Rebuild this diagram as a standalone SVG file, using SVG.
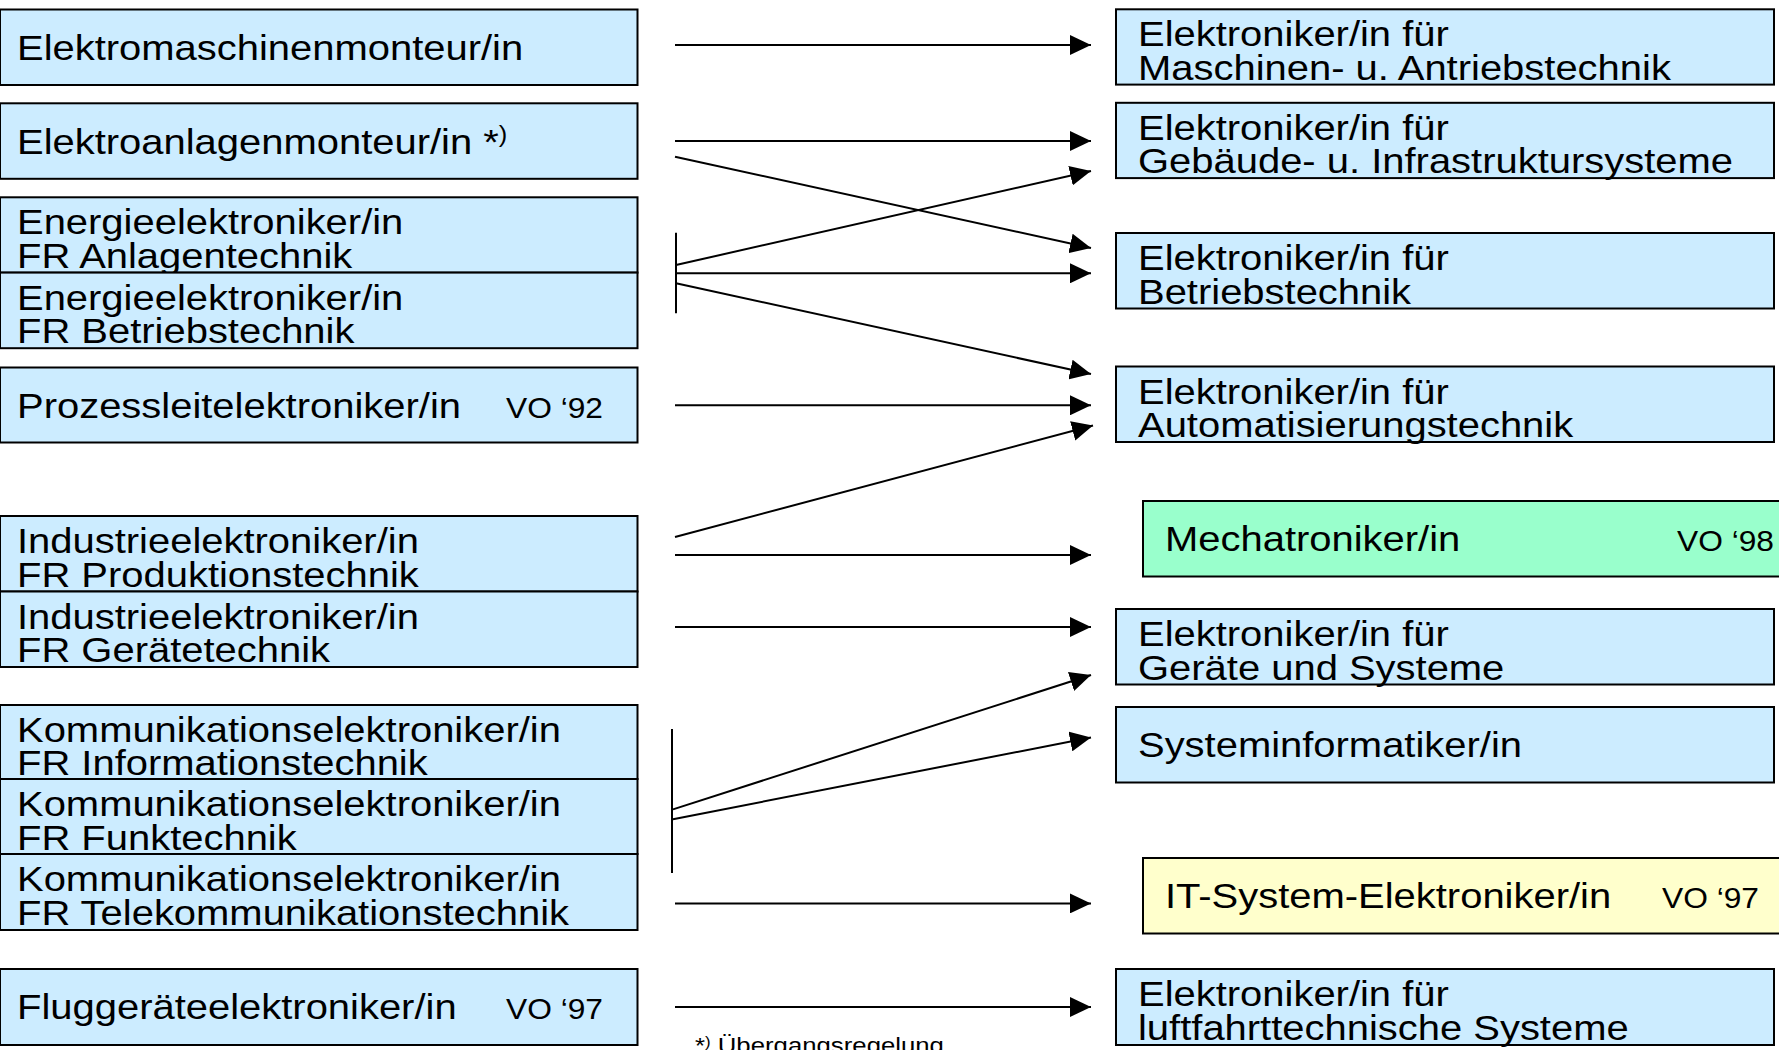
<svg xmlns="http://www.w3.org/2000/svg" width="1779" height="1050" viewBox="0 0 1779 1050">
<style>
.b{fill:#CCECFF;stroke:#000;stroke-width:2}
.g{fill:#99FFCC;stroke:#000;stroke-width:2}
.y{fill:#FFFFCC;stroke:#000;stroke-width:2}
text{font-family:"Liberation Sans",Arial,sans-serif;fill:#000}
.t{font-size:36px}
.v{font-size:29px}
.f{font-size:23px}
.c line{stroke:#000;stroke-width:2;fill:none}
.c .a{marker-end:url(#ah)}
</style>
<defs>
<marker id="ah" markerUnits="userSpaceOnUse" markerWidth="22" markerHeight="20" refX="21" refY="10" orient="auto" viewBox="0 0 22 20">
<path d="M0,0 L21,10 L0,20 z" fill="#000"/>
</marker>
</defs>
<rect width="1779" height="1050" fill="#fff"/>

<g id="l1"><rect class="b" x="0" y="9.5" width="637.5" height="75.5"/><text class="t" transform="translate(17,60) scale(1.11,1)">Elektromaschinenmonteur/in</text></g>
<g id="l2"><rect class="b" x="0" y="103.3" width="637.5" height="75.5"/><text class="t" transform="translate(17,154) scale(1.11,1)">Elektroanlagenmonteur/in *<tspan font-size="23" dy="-12">)</tspan></text></g>
<g id="l3"><rect class="b" x="0" y="197.3" width="637.5" height="75.3"/><text class="t" transform="translate(17,234) scale(1.11,1)"><tspan x="0" y="0">Energieelektroniker/in</tspan><tspan x="0" y="34">FR Anlagentechnik</tspan></text></g>
<g id="l4"><rect class="b" x="0" y="272.6" width="637.5" height="75.6"/><text class="t" transform="translate(17,309.5) scale(1.11,1)"><tspan x="0" y="0">Energieelektroniker/in</tspan><tspan x="0" y="34">FR Betriebstechnik</tspan></text></g>
<g id="l5"><rect class="b" x="0" y="367.5" width="637.5" height="75"/><text class="t" transform="translate(17,418) scale(1.11,1)">Prozessleitelektroniker/in</text><text class="v" transform="translate(506,418) scale(1.095,1)">VO ‘92</text></g>
<g id="l6"><rect class="b" x="0" y="516" width="637.5" height="75.5"/><text class="t" transform="translate(17,553) scale(1.11,1)"><tspan x="0" y="0">Industrieelektroniker/in</tspan><tspan x="0" y="34">FR Produktionstechnik</tspan></text></g>
<g id="l7"><rect class="b" x="0" y="591.5" width="637.5" height="75.5"/><text class="t" transform="translate(17,628.5) scale(1.11,1)"><tspan x="0" y="0">Industrieelektroniker/in</tspan><tspan x="0" y="34">FR Gerätetechnik</tspan></text></g>
<g id="l8"><rect class="b" x="0" y="705" width="637.5" height="74"/><text class="t" transform="translate(17,741.5) scale(1.11,1)"><tspan x="0" y="0">Kommunikationselektroniker/in</tspan><tspan x="0" y="34">FR Informationstechnik</tspan></text></g>
<g id="l9"><rect class="b" x="0" y="779" width="637.5" height="75"/><text class="t" transform="translate(17,816) scale(1.11,1)"><tspan x="0" y="0">Kommunikationselektroniker/in</tspan><tspan x="0" y="34">FR Funktechnik</tspan></text></g>
<g id="l10"><rect class="b" x="0" y="854" width="637.5" height="76"/><text class="t" transform="translate(17,891) scale(1.11,1)"><tspan x="0" y="0">Kommunikationselektroniker/in</tspan><tspan x="0" y="34">FR Telekommunikationstechnik</tspan></text></g>
<g id="l11"><rect class="b" x="0" y="969" width="637.5" height="76"/><text class="t" transform="translate(17,1019) scale(1.11,1)">Fluggeräteelektroniker/in</text><text class="v" transform="translate(506,1019) scale(1.095,1)">VO ‘97</text></g>

<g id="r1"><rect class="b" x="1116" y="9.3" width="658" height="75.3"/><text class="t" transform="translate(1138,46) scale(1.11,1)"><tspan x="0" y="0">Elektroniker/in für</tspan><tspan x="0" y="34">Maschinen- u. Antriebstechnik</tspan></text></g>
<g id="r2"><rect class="b" x="1116" y="102.8" width="658" height="75.3"/><text class="t" transform="translate(1138,139.5) scale(1.11,1)"><tspan x="0" y="0">Elektroniker/in für</tspan><tspan x="0" y="34">Gebäude- u. Infrastruktursysteme</tspan></text></g>
<g id="r3"><rect class="b" x="1116" y="233" width="658" height="75.5"/><text class="t" transform="translate(1138,270) scale(1.11,1)"><tspan x="0" y="0">Elektroniker/in für</tspan><tspan x="0" y="34">Betriebstechnik</tspan></text></g>
<g id="r4"><rect class="b" x="1116" y="366.5" width="658" height="75.5"/><text class="t" transform="translate(1138,403.5) scale(1.11,1)"><tspan x="0" y="0">Elektroniker/in für</tspan><tspan x="0" y="34">Automatisierungstechnik</tspan></text></g>
<g id="r5"><rect class="g" x="1143" y="501" width="660" height="75.5"/><text class="t" transform="translate(1165,551) scale(1.11,1)">Mechatroniker/in</text><text class="v" transform="translate(1677,551) scale(1.095,1)">VO ‘98</text></g>
<g id="r6"><rect class="b" x="1116" y="609" width="658" height="75.5"/><text class="t" transform="translate(1138,646) scale(1.11,1)"><tspan x="0" y="0">Elektroniker/in für</tspan><tspan x="0" y="34">Geräte und Systeme</tspan></text></g>
<g id="r7"><rect class="b" x="1116" y="707" width="658" height="75.5"/><text class="t" transform="translate(1138,757) scale(1.11,1)">Systeminformatiker/in</text></g>
<g id="r8"><rect class="y" x="1143" y="858" width="660" height="75.5"/><text class="t" transform="translate(1165,908) scale(1.11,1)">IT-System-Elektroniker/in</text><text class="v" transform="translate(1662,908) scale(1.095,1)">VO ‘97</text></g>
<g id="r9"><rect class="b" x="1116" y="969" width="658" height="76"/><text class="t" transform="translate(1138,1006) scale(1.11,1)"><tspan x="0" y="0">Elektroniker/in für</tspan><tspan x="0" y="34">luftfahrttechnische Systeme</tspan></text></g>

<g id="connectors" class="c">
<line x1="676" y1="232.7" x2="676" y2="313.3"/>
<line x1="672" y1="729" x2="672" y2="873"/>
<line class="a" x1="675" y1="45" x2="1091" y2="45"/>
<line class="a" x1="675" y1="141" x2="1091" y2="141"/>
<line class="a" x1="675" y1="156.7" x2="1091" y2="248"/>
<line class="a" x1="676" y1="265" x2="1091" y2="171"/>
<line class="a" x1="676" y1="273.3" x2="1091" y2="273.3"/>
<line class="a" x1="676" y1="283.3" x2="1091" y2="374"/>
<line class="a" x1="675" y1="405.3" x2="1091" y2="405.3"/>
<line class="a" x1="675" y1="537" x2="1093" y2="425.5"/>
<line class="a" x1="675" y1="555" x2="1091" y2="555"/>
<line class="a" x1="675" y1="627" x2="1091" y2="627"/>
<line class="a" x1="673" y1="809.4" x2="1091" y2="675"/>
<line class="a" x1="673" y1="819.2" x2="1091" y2="737.5"/>
<line class="a" x1="675" y1="903.4" x2="1091" y2="903.4"/>
<line class="a" x1="675" y1="1007" x2="1091" y2="1007"/>
</g>
<text class="f" transform="translate(695,1053) scale(1.12,1)">*<tspan font-size="15" dy="-6">)</tspan><tspan dy="6"> Übergangsregelung</tspan></text>
</svg>
